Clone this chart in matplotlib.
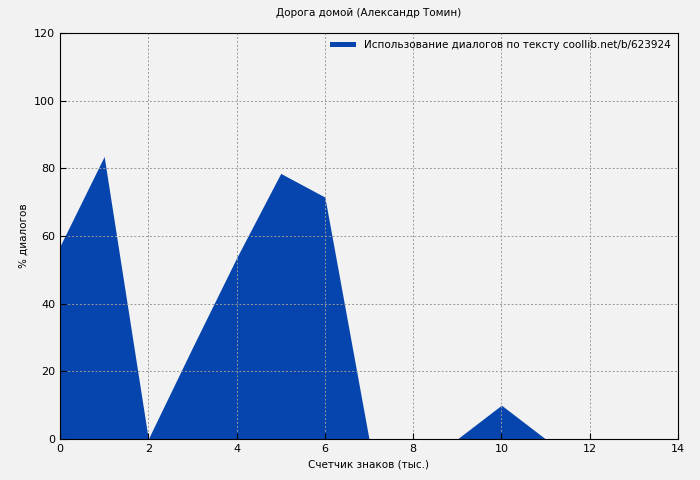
import matplotlib.pyplot as plt

# counter of characters (thousands) and share of dialogue, %
x_vals = [0, 1, 2, 3, 4, 5, 6, 7, 8, 9, 10, 11]
dialog_pct = [57, 83.5, 0, 27, 53.5, 78.5, 71.5, 0, 0, 0, 10, 0]

title = "Дорога домой (Александр Томин)"
legend_label = "Использование диалогов по тексту coollib.net/b/623924"

fig = plt.figure(figsize=(7, 4.8), dpi=100, facecolor="#f2f2f2")
ax = fig.add_axes([60 / 700, 41 / 480, 618 / 700, 406 / 480])
ax.set_facecolor("#f2f2f2")

ax.fill_between(x_vals, dialog_pct, 0, color="#0645ad", lw=0, label=legend_label)

ax.set_xlim(0, 14)
ax.set_ylim(0, 120)
ax.set_xticks(range(0, 15, 2))
ax.set_yticks(range(0, 121, 20))
ax.grid(True, color="#999999", linestyle=(0, (2, 2)), linewidth=0.7)
ax.tick_params(labelsize=8, direction="in", length=4)
for s in ax.spines.values():
    s.set_linewidth(0.8)

ax.set_title(title, fontsize=7.5, pad=12)
ax.set_xlabel("Счетчик знаков (тыс.)", fontsize=7.5)
ax.set_ylabel("% диалогов", fontsize=7.5)

leg = ax.legend(loc="upper right", fontsize=7.5, frameon=False,
                handlelength=2.5, handleheight=0.4, borderaxespad=0.3)

fig.savefig("out.png", dpi=100, facecolor=fig.get_facecolor())
